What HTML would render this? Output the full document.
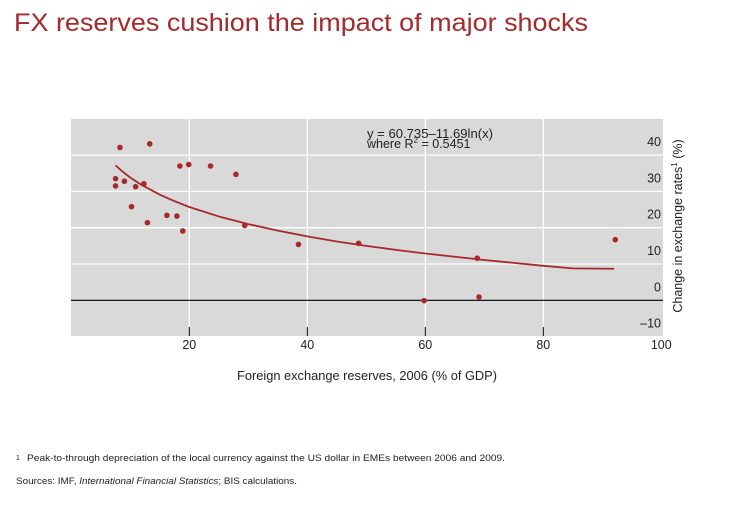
<!DOCTYPE html>
<html><head><meta charset="utf-8"><style>
body{margin:0;width:733px;height:500px;background:#fff;font-family:"Liberation Sans",sans-serif;overflow:hidden}
svg text{font-family:"Liberation Sans",sans-serif}
</style></head><body>
<svg id="chart" width="733" height="500">
<text x="14" y="31" font-size="25" fill="#a6292b" textLength="574" lengthAdjust="spacingAndGlyphs">FX reserves cushion the impact of major shocks</text>
<rect x="71" y="119" width="592" height="217" fill="#d9d9d9"/>
<g id="grid"></g>
<g id="marks"></g>
<text x="367" y="138" font-size="12.5" fill="#222" textLength="126" lengthAdjust="spacingAndGlyphs">y = 60.735–11.69ln(x)</text>
<text x="367" y="148" font-size="12.5" fill="#222">where R<tspan font-size="8" dy="-5">2</tspan><tspan dy="5"> = 0.5451</tspan></text>
<text x="367" y="380" font-size="12.5" fill="#222" text-anchor="middle" textLength="260" lengthAdjust="spacingAndGlyphs">Foreign exchange reserves, 2006 (% of GDP)</text>
<text transform="translate(682,226) rotate(-90)" font-size="12.5" fill="#222" text-anchor="middle">Change in exchange rates<tspan font-size="8" dy="-5">1</tspan><tspan dy="5"> (%)</tspan></text>
<text x="16" y="460" font-size="7" fill="#222">1</text>
<text x="27" y="461" font-size="9.5" fill="#222" textLength="478" lengthAdjust="spacingAndGlyphs">Peak-to-through depreciation of the local currency against the US dollar in EMEs between 2006 and 2009.</text>
<text x="16" y="484" font-size="9.5" fill="#222" textLength="281" lengthAdjust="spacingAndGlyphs">Sources: IMF, <tspan font-style="italic">International Financial Statistics</tspan>; BIS calculations.</text>
</svg>
<script>
const xTicks=[20,40,60,80,100];
const yTicks=[-10,0,10,20,30,40];
const pointX=[8.25,13.3,7.5,7.5,9.0,10.9,12.3,10.2,12.9,16.2,17.9,18.9,18.4,19.9,23.6,27.9,29.4,38.5,48.7,68.8,59.8,69.1,92.2];
const pointY=[42.1,43.1,33.5,31.5,32.8,31.3,32.1,25.8,21.4,23.4,23.2,19.1,37.0,37.4,37.0,34.7,20.6,15.4,15.7,11.6,-0.1,0.9,16.7];
const fitX=[7.5,8.5,10,12,15,17.5,20,25,30,35,40,45,50,55,60,65,70,75,80,85,92];
const fitY=[37.2,35.7,33.8,31.7,29.1,27.3,25.7,23.1,21.0,19.2,17.6,16.2,15.0,13.9,12.9,12.0,11.1,10.3,9.5,8.8,8.7];
const NS="http://www.w3.org/2000/svg";
const sx=v=>71.3+v*5.9;
const sy=v=>300.3-v*3.63;
const grid=document.getElementById('grid'),marks=document.getElementById('marks');
function mk(tag,attrs,parent){const e=document.createElementNS(NS,tag);for(const k in attrs)e.setAttribute(k,attrs[k]);parent.appendChild(e);return e;}
xTicks.forEach(t=>{
  if(t<100){
    const l=mk('line',{x1:sx(t),x2:sx(t),y1:119,y2:336,stroke:'#fff','stroke-width':1.3},grid);
    
    
    const tk=mk('line',{x1:sx(t),x2:sx(t),y1:327,y2:336,stroke:'#000','stroke-width':1},grid);
    
    
  }
  const tx=mk('text',{x:sx(t),y:349,'font-size':12.5,fill:'#222','text-anchor':'middle'},grid);
  tx.textContent=t;
  
  
});
yTicks.forEach(t=>{
  if(t>0){
    const l=mk('line',{x1:71,x2:663,y1:sy(t),y2:sy(t),stroke:'#fff','stroke-width':1.3},grid);
    
    
  }
  const tx=mk('text',{x:661,y:sy(t)-9,'font-size':12.5,fill:'#222','text-anchor':'end'},grid);
  tx.textContent=t<0?'–'+(-t):t;
  
  
});
const z=mk('line',{x1:71,x2:663,y1:sy(0),y2:sy(0),stroke:'#000','stroke-width':1.2},grid);


const fit=mk('polyline',{points:fitX.map((x,i)=>sx(x)+','+sy(fitY[i])).join(' '),fill:'none',stroke:'#a6292b','stroke-width':1.8,'stroke-linejoin':'round'},marks);


pointX.forEach((x,i)=>{
  const c=mk('circle',{cx:sx(x),cy:sy(pointY[i]),r:2.8,fill:'#a6292b'},marks);
  
  
});
</script>
</body></html>
